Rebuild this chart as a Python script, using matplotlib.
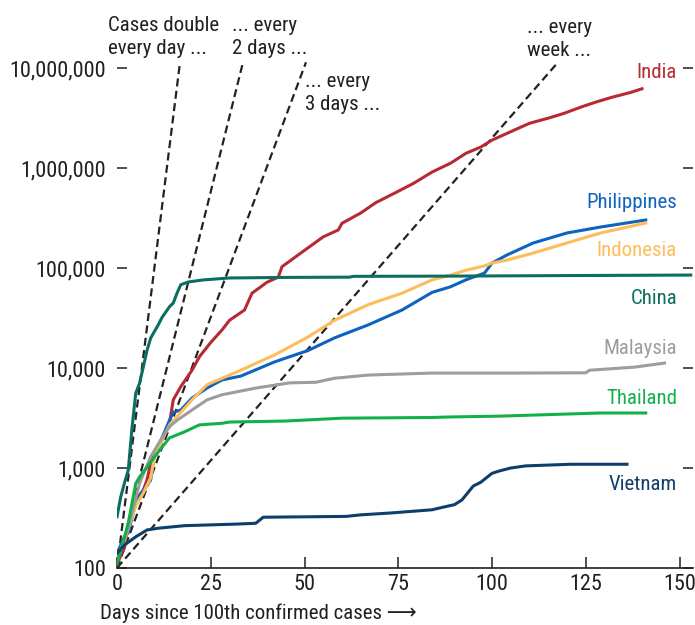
import matplotlib
matplotlib.use('Agg')
import matplotlib.pyplot as plt
from matplotlib import font_manager
from matplotlib.ticker import FixedLocator, FuncFormatter, NullLocator

# condensed face if there is one, else plain Liberation Sans a bit smaller
fs_tick, fs = 14, 13
main_font = 'Liberation Sans'
for cand in ['Liberation Sans Narrow', 'Roboto Condensed', 'Arial Narrow', 'Open Sans Condensed']:
    try:
        font_manager.findfont(cand, fallback_to_default=False)
        main_font, fs_tick, fs = cand, 16, 15
        break
    except ValueError:
        pass
plt.rcParams['font.family'] = [main_font, 'DejaVu Sans']

# days since 100th case / confirmed cases
india_days = [0, 2, 3, 5, 7, 8, 9, 10, 12, 14, 15, 17, 20, 22, 25, 28, 30, 34, 36, 40, 43, 44,
              49, 55, 59, 60, 65, 69, 74, 79, 84, 89, 93, 97, 100, 106, 110, 115, 119, 124,
              128, 132, 137, 140]
india_cases = [110, 160, 280, 480, 600, 760, 1120, 1400, 1900, 2800, 4800, 6500, 9500, 13000,
               18000, 24000, 30000, 38000, 56000, 72000, 81000, 103000, 141000, 205000, 240000,
               280000, 355000, 450000, 560000, 700000, 910000, 1120000, 1400000, 1620000,
               1900000, 2400000, 2800000, 3150000, 3500000, 4100000, 4600000, 5100000,
               5700000, 6200000]

philippines_days = [0, 2, 3, 5, 7, 9, 10, 12, 14, 15, 17, 20, 24, 28, 33, 42, 51, 58, 67, 76,
                    84, 89, 93, 98, 100, 104, 111, 120, 129, 141]
philippines_cases = [140, 205, 225, 450, 600, 760, 1400, 2000, 3000, 3600, 3800, 5000, 6300,
                     7600, 8300, 11500, 15000, 20000, 27000, 38000, 57000, 65000, 76000, 89000,
                     112000, 135000, 178000, 224000, 257000, 302000]

indonesia_days = [0, 2, 5, 7, 9, 10, 12, 14, 17, 20, 24, 33, 42, 51, 58, 67, 76, 84, 89, 93,
                  98, 100, 104, 111, 120, 129, 141]
indonesia_cases = [120, 190, 420, 560, 800, 1300, 1900, 2700, 3600, 4800, 6800, 9500, 13500,
                   20500, 30000, 43000, 56000, 76000, 85000, 95000, 105000, 112000, 120000,
                   141000, 178000, 224000, 282000]

china_days = [0, 1, 2, 3, 4, 5, 6, 7, 8, 9, 11, 12, 14, 15, 16, 17, 19, 23, 30, 45, 62, 63,
              90, 120, 153]
china_cases = [325, 515, 710, 950, 2500, 5600, 7000, 10200, 15000, 20000, 27000, 32000,
               41000, 44600, 56000, 68000, 72500, 76000, 79500, 80500, 81000, 82500, 83000,
               84000, 85000]

malaysia_days = [0, 3, 6, 9, 12, 14, 16, 20, 24, 28, 37, 46, 53, 58, 67, 84, 105, 125, 126,
                 138, 146]
malaysia_cases = [120, 250, 700, 1300, 2000, 2600, 3000, 3800, 4800, 5400, 6300, 7100, 7200,
                  7900, 8500, 8900, 8900, 8950, 9500, 10200, 11200]

thailand_days = [0, 3, 5, 6, 8, 10, 12, 14, 18, 22, 28, 30, 45, 60, 84, 89, 102, 129, 141]
thailand_cases = [110, 280, 700, 810, 1020, 1290, 1620, 2000, 2300, 2700, 2800, 2880, 2950,
                  3150, 3200, 3240, 3300, 3550, 3550]

vietnam_days = [0, 2, 5, 8, 11, 18, 32, 37, 39, 61, 65, 73, 84, 87, 90, 92, 95, 97, 100, 102,
                105, 109, 121, 136]
vietnam_cases = [140, 170, 205, 240, 250, 265, 275, 280, 322, 328, 340, 355, 382, 406, 430,
                 480, 660, 720, 885, 935, 1000, 1050, 1090, 1090]

# doubling reference lines: days to double, end day
double_every = [1, 2, 3, 7]
double_end = [16.8, 33.6, 50.4, 117.6]

countries = ['India', 'Philippines', 'Indonesia', 'China', 'Malaysia', 'Thailand', 'Vietnam']
colors = ['#b72a33', '#0f63c0', '#fdbd5a', '#0b6e5f', '#9d9d9d', '#12b04a', '#0e3f6a']
series = [(india_days, india_cases), (philippines_days, philippines_cases),
          (indonesia_days, indonesia_cases), (china_days, china_cases),
          (malaysia_days, malaysia_cases), (thailand_days, thailand_cases),
          (vietnam_days, vietnam_cases)]
label_y = [72, 203, 250, 298, 349, 398, 484]  # label centres, pixels from top

text_col = '#231f20'
W, H = 695, 625

fig = plt.figure(figsize=(W / 100, H / 100), dpi=100)
ax = fig.add_axes([117 / W, 57 / H, 576 / W, 568 / H])

for d, end in zip(double_every, double_end):
    ax.plot([0, end], [100, 100 * 2 ** (end / d)], color='#222222', lw=1.6,
            dashes=(3.6, 2.0), zorder=2)

for (days, cases), c in zip(series, colors):
    ax.plot(days, cases, color=c, lw=2.2, solid_joinstyle='round', zorder=3)

ax.set_yscale('log')
ax.set_ylim(100, 10 ** 7.68)
ax.set_xlim(0, 576 / 3.75)
ax.yaxis.set_major_locator(FixedLocator([1e2, 1e3, 1e4, 1e5, 1e6, 1e7]))
ax.yaxis.set_minor_locator(NullLocator())
ax.yaxis.set_major_formatter(FuncFormatter(lambda v, p: '{:,.0f}'.format(v)))
ax.set_xticks([0, 25, 50, 75, 100, 125, 150])

for s in ['top', 'left', 'right']:
    ax.spines[s].set_visible(False)
ax.spines['bottom'].set_color(text_col)
ax.spines['bottom'].set_linewidth(1.2)

ax.tick_params(axis='x', direction='in', length=8, width=1.1, color=text_col,
               labelsize=fs_tick, labelcolor=text_col, pad=4)
ax.tick_params(axis='y', direction='in', length=7, width=1.1, color=text_col,
               labelsize=fs_tick, labelcolor=text_col, pad=8, right=True)

for name, c, y in zip(countries, colors, label_y):
    fig.text(677 / W, 1 - y / H, name, color=c, fontsize=fs, ha='right', va='center')

notes = [('Cases double\nevery day ...', 108, 16), ('... every\n2 days ...', 232, 16),
         ('... every\n3 days ...', 305, 72), ('... every\nweek ...', 527, 18)]
for txt, x, y in notes:
    fig.text(x / W, 1 - y / H, txt, color=text_col, fontsize=fs, ha='left', va='top',
             linespacing=1.25)

fig.text(100 / W, 1 - 613 / H, 'Days since 100th confirmed cases ⟶', color=text_col,
         fontsize=fs, ha='left', va='center')

fig.savefig('out.png', dpi=100)
